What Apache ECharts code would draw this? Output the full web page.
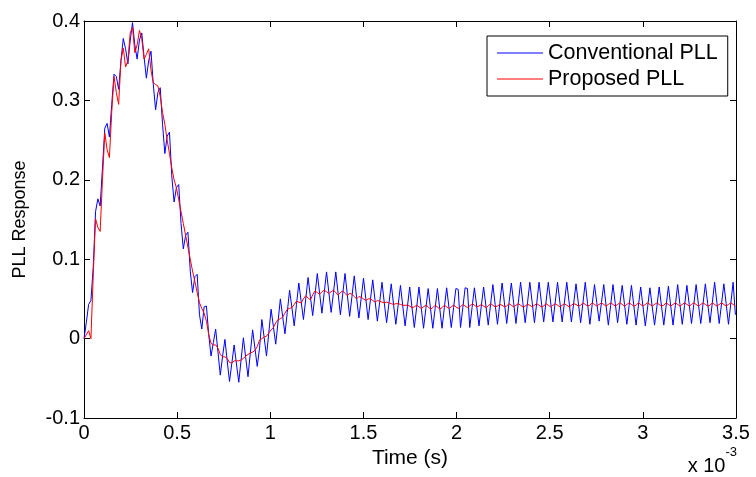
<!DOCTYPE html>
<html>
<head>
<meta charset="utf-8">
<script src="https://cdn.jsdelivr.net/npm/echarts/dist/echarts.min.js"></script>
<style>html,body{margin:0;padding:0;background:#fff}#c{width:756px;height:477px}</style>
</head>
<body>
<div id="c"></div>
<script>
// ---- data (time axis in units of 1e-3 s) ----
const sampleStepMs = 0.0124;
const xTicks = [0, 0.5, 1, 1.5, 2, 2.5, 3, 3.5];
const yTicks = [-0.1, 0, 0.1, 0.2, 0.3, 0.4];
const seriesNames = ['Conventional PLL', 'Proposed PLL'];
const xLabel = 'Time (s)';
const yLabel = 'PLL Response';

// Conventional PLL samples
const convA = [
0.000, 0.020, 0.043, 0.048,
0.090, 0.160, 0.176, 0.167,
0.215, 0.265, 0.271, 0.254,
0.295, 0.333, 0.330, 0.314,
0.350, 0.378, 0.365, 0.346,
0.375, 0.398, 0.370, 0.352,
0.376, 0.385, 0.355, 0.328,
0.350, 0.362, 0.320, 0.288,
0.310, 0.316, 0.270, 0.233,
0.255, 0.260, 0.205, 0.172,
0.190, 0.194, 0.145, 0.113,
0.130, 0.134, 0.085, 0.058,
0.078, 0.081, 0.030, 0.012,
0.040, 0.041, 0.005, -0.022];
const convB = [
-0.005, 0.012, -0.017, -0.046,
-0.022, -0.001, -0.028, -0.054,
-0.031, -0.008, -0.032, -0.055,
-0.027, 0.001, -0.024, -0.048,
-0.018, 0.011, -0.012, -0.035,
-0.012, 0.024, 0.001, -0.022,
0.007, 0.037, 0.015, -0.007,
0.021, 0.050, 0.028, 0.006,
0.033, 0.061, 0.039, 0.016,
0.043, 0.070, 0.047, 0.024,
0.050, 0.077, 0.053, 0.029,
0.055, 0.082, 0.057, 0.032,
0.058, 0.084, 0.058, 0.033,
0.058, 0.084, 0.057, 0.030];
const convC = [
0.056, 0.082, 0.055, 0.028,
0.053, 0.079, 0.052, 0.026,
0.051, 0.076, 0.050, 0.024,
0.049, 0.074, 0.048, 0.022,
0.046, 0.071, 0.045, 0.020,
0.044, 0.069, 0.043, 0.018,
0.042, 0.067, 0.041, 0.016,
0.040, 0.065, 0.039, 0.014,
0.039, 0.065, 0.039, 0.013,
0.038, 0.063, 0.038, 0.013,
0.038, 0.063, 0.038, 0.013,
0.039, 0.064, 0.039, 0.014,
0.039, 0.063, 0.062, 0.014,
0.039, 0.064, 0.063, 0.014];
const convD = [
0.039, 0.064, 0.041, 0.016,
0.041, 0.065, 0.041, 0.017,
0.043, 0.068, 0.043, 0.018,
0.044, 0.070, 0.045, 0.019,
0.045, 0.070, 0.045, 0.019,
0.045, 0.071, 0.045, 0.020,
0.045, 0.071, 0.046, 0.020,
0.045, 0.071, 0.046, 0.021,
0.046, 0.071, 0.046, 0.021,
0.046, 0.071, 0.046, 0.021,
0.046, 0.071, 0.046, 0.021,
0.045, 0.069, 0.045, 0.020,
0.045, 0.071, 0.044, 0.018,
0.043, 0.068, 0.045, 0.022];
const convE = [
0.045, 0.068, 0.042, 0.017,
0.042, 0.068, 0.044, 0.020,
0.044, 0.067, 0.043, 0.018,
0.042, 0.067, 0.042, 0.017,
0.041, 0.065, 0.040, 0.016,
0.040, 0.064, 0.040, 0.017,
0.040, 0.065, 0.041, 0.017,
0.041, 0.066, 0.041, 0.017,
0.042, 0.068, 0.043, 0.018,
0.042, 0.067, 0.043, 0.019,
0.043, 0.068, 0.043, 0.019,
0.044, 0.069, 0.044, 0.020,
0.045, 0.071, 0.045, 0.019,
0.044, 0.069, 0.044, 0.018,
0.044, 0.071, 0.030];

// Proposed PLL samples
const propA = [
0.000, 0.005, 0.010, 0.000,
0.080, 0.151, 0.140, 0.135,
0.200, 0.259, 0.238, 0.228,
0.285, 0.330, 0.310, 0.295,
0.350, 0.366, 0.342, 0.350,
0.385, 0.392, 0.360, 0.370,
0.388, 0.378, 0.352, 0.358,
0.365, 0.338, 0.322, 0.320,
0.318, 0.305, 0.285, 0.270,
0.250, 0.233, 0.215, 0.200,
0.190, 0.175, 0.160, 0.145,
0.130, 0.115, 0.100, 0.085,
0.072, 0.058, 0.045, 0.038,
0.032, 0.022, 0.005, -0.006];
const propB = [
-0.008, -0.008, -0.012, -0.020,
-0.023, -0.023, -0.025, -0.030,
-0.031, -0.028, -0.028, -0.028,
-0.027, -0.025, -0.022, -0.020,
-0.018, -0.017, -0.015, -0.010,
-0.002, 0.000, 0.002, 0.003,
0.007, 0.011, 0.014, 0.020,
0.024, 0.025, 0.027, 0.032,
0.037, 0.038, 0.039, 0.043,
0.047, 0.046, 0.045, 0.050,
0.054, 0.051, 0.049, 0.055,
0.060, 0.058, 0.056, 0.059,
0.061, 0.059, 0.057, 0.059,
0.061, 0.058, 0.055, 0.058];
const propC = [
0.060, 0.057, 0.054, 0.057,
0.056, 0.053, 0.050, 0.053,
0.052, 0.050, 0.048, 0.050,
0.050, 0.048, 0.046, 0.048,
0.047, 0.046, 0.045, 0.046,
0.045, 0.044, 0.043, 0.044,
0.044, 0.043, 0.042, 0.042,
0.042, 0.041, 0.039, 0.040,
0.042, 0.040, 0.038, 0.040,
0.042, 0.040, 0.037, 0.039,
0.042, 0.040, 0.037, 0.039,
0.042, 0.040, 0.038, 0.040,
0.042, 0.040, 0.038, 0.040,
0.043, 0.041, 0.039, 0.041];
const propD = [
0.044, 0.042, 0.040, 0.041,
0.043, 0.041, 0.039, 0.041,
0.044, 0.042, 0.040, 0.041,
0.043, 0.042, 0.040, 0.041,
0.044, 0.042, 0.040, 0.042,
0.044, 0.042, 0.040, 0.041,
0.043, 0.042, 0.040, 0.042,
0.044, 0.042, 0.040, 0.041,
0.044, 0.042, 0.040, 0.042,
0.044, 0.042, 0.040, 0.042,
0.044, 0.042, 0.040, 0.042,
0.044, 0.043, 0.041, 0.042,
0.045, 0.043, 0.041, 0.042,
0.045, 0.043, 0.041, 0.043];
const propE = [
0.045, 0.043, 0.041, 0.043,
0.045, 0.043, 0.041, 0.043,
0.045, 0.043, 0.041, 0.043,
0.045, 0.043, 0.041, 0.042,
0.045, 0.043, 0.041, 0.043,
0.045, 0.043, 0.041, 0.043,
0.045, 0.043, 0.041, 0.042,
0.045, 0.043, 0.041, 0.043,
0.045, 0.043, 0.041, 0.043,
0.045, 0.043, 0.041, 0.043,
0.045, 0.043, 0.041, 0.043,
0.045, 0.043, 0.041, 0.042,
0.045, 0.043, 0.041, 0.043,
0.045, 0.043, 0.041, 0.043,
0.045, 0.043, 0.041];

// ---- chart ----
const conventional = [].concat(convA, convB, convC, convD, convE);
const proposed = [].concat(propA, propB, propC, propD, propE);
const toPoints = arr => arr.map((v, i) => [i * sampleStepMs, v]);
const FONT = '"Liberation Sans", Arial, Helvetica, sans-serif';
const fmt = v => String(+(+v).toFixed(1));

const axisLineStyle = {onZero: false, lineStyle: {color: '#000', width: 1}};
const tickStyle = {inside: true, length: 6, lineStyle: {color: '#000', width: 1}};

const chart = echarts.init(document.getElementById('c'), null, {renderer: 'canvas'});
chart.setOption({
  animation: false,
  backgroundColor: '#fff',
  grid: {left: 84, right: 20, top: 21, bottom: 59},
  title: {
    text: '{a|x 10}{b|-3}',
    right: 19, bottom: 1, padding: 0,
    textStyle: {
      fontWeight: 'normal',
      rich: {
        a: {fontSize: 20, fontFamily: FONT, fontWeight: 'normal', color: '#000', verticalAlign: 'bottom', lineHeight: 30},
        b: {fontSize: 13, fontFamily: FONT, fontWeight: 'normal', color: '#000', verticalAlign: 'top', lineHeight: 30}
      }
    }
  },
  legend: {
    orient: 'vertical', left: 487, top: 36,
    padding: [6, 10, 6, 10], itemGap: 4,
    itemWidth: 46, itemHeight: 1, icon: 'rect',
    borderColor: '#000', borderWidth: 1, backgroundColor: '#fff',
    textStyle: {fontSize: 21.5, fontFamily: FONT, color: '#000'},
    data: seriesNames
  },
  xAxis: [{
    type: 'value', position: 'bottom',
    min: xTicks[0], max: xTicks[xTicks.length - 1], interval: xTicks[1] - xTicks[0],
    name: xLabel, nameLocation: 'middle', nameGap: 24,
    nameTextStyle: {fontSize: 21, fontFamily: FONT, color: '#000'},
    axisLine: axisLineStyle, axisTick: tickStyle,
    axisLabel: {margin: 5, fontSize: 20, fontFamily: FONT, color: '#000', formatter: fmt},
    splitLine: {show: false}
  }, {
    type: 'value', position: 'top',
    min: xTicks[0], max: xTicks[xTicks.length - 1], interval: xTicks[1] - xTicks[0],
    axisLine: axisLineStyle, axisTick: tickStyle,
    axisLabel: {show: false}, splitLine: {show: false}
  }],
  yAxis: [{
    type: 'value', position: 'left',
    min: yTicks[0], max: yTicks[yTicks.length - 1], interval: 0.1,
    name: yLabel, nameLocation: 'middle', nameRotate: 90, nameGap: 55,
    nameTextStyle: {fontSize: 18, fontFamily: FONT, color: '#000'},
    axisLine: axisLineStyle, axisTick: tickStyle,
    axisLabel: {margin: 4, fontSize: 20, fontFamily: FONT, color: '#000', formatter: fmt},
    splitLine: {show: false}
  }, {
    type: 'value', position: 'right',
    min: yTicks[0], max: yTicks[yTicks.length - 1], interval: 0.1,
    axisLine: axisLineStyle, axisTick: tickStyle,
    axisLabel: {show: false}, splitLine: {show: false}
  }],
  series: [{
    name: seriesNames[0], type: 'line', xAxisIndex: 0, yAxisIndex: 0,
    data: toPoints(conventional), symbol: 'none', showSymbol: false,
    lineStyle: {color: '#0000ff', width: 1}, itemStyle: {color: '#0000ff'}
  }, {
    name: seriesNames[1], type: 'line', xAxisIndex: 0, yAxisIndex: 0,
    data: toPoints(proposed), symbol: 'none', showSymbol: false,
    lineStyle: {color: '#ff0000', width: 1}, itemStyle: {color: '#ff0000'}
  }]
});
</script>
</body>
</html>
